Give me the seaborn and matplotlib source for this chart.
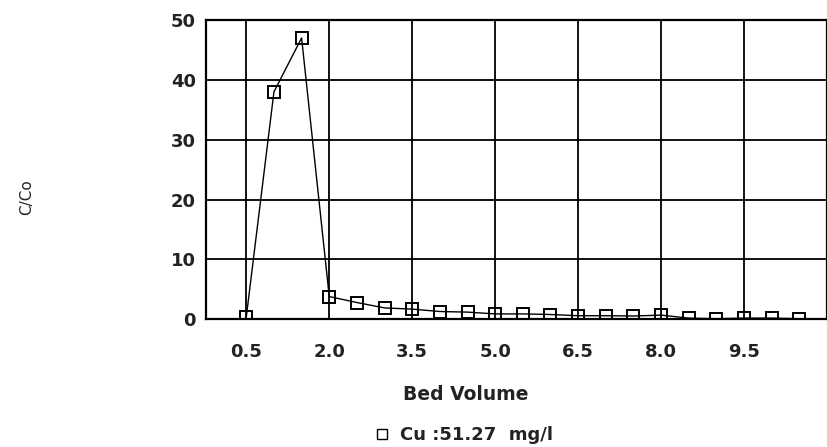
import matplotlib
matplotlib.use("Agg")
import matplotlib.pyplot as plt
from matplotlib.lines import Line2D
import seaborn as sns
import pandas as pd

bed_volume = [0.5, 1.0, 1.5, 2.0, 2.5, 3.0, 3.5, 4.0, 4.5, 5.0, 5.5,
              6.0, 6.5, 7.0, 7.5, 8.0, 8.5, 9.0, 9.5, 10.0, 10.5]
c_over_co = [0.4, 38.0, 47.0, 3.8, 2.8, 1.9, 1.7, 1.3, 1.2, 0.9, 0.9,
             0.8, 0.6, 0.6, 0.55, 0.7, 0.2, 0.1, 0.2, 0.2, 0.1]
x_ticks = [0.5, 2.0, 3.5, 5.0, 6.5, 8.0, 9.5]
x_tick_labels = ["0.5", "2.0", "3.5", "5.0", "6.5", "8.0", "9.5"]
y_ticks = [0, 10, 20, 30, 40, 50]
legend_label = "Cu :51.27  mg/l"
x_label = "Bed Volume"
y_label = "C/Co"

df = pd.DataFrame({"bv": bed_volume, "c": c_over_co})

sns.set_theme(style="white")
plt.rcParams["font.family"] = ["DejaVu Sans"]

fig = plt.figure(figsize=(8.27, 4.47), dpi=100)
W, H = 827, 447
left, right, top, bottom = 205.7, 827.0, 20.0, 319.3
ax = fig.add_axes([left / W, 1 - bottom / H, (right - left) / W, (bottom - top) / H])

sns.lineplot(data=df, x="bv", y="c", ax=ax, color="black", linewidth=1.0,
             marker="s", markersize=8, markerfacecolor="none",
             markeredgecolor="black", markeredgewidth=1.4, zorder=3)

ax.set_xlim(-0.234, 11.0)
ax.set_ylim(0, 50)
ax.set_xticks(x_ticks)
ax.set_xticklabels(x_tick_labels)
ax.set_yticks(y_ticks)
ax.tick_params(axis="x", length=0, pad=17, labelsize=13, colors="#222222")
ax.tick_params(axis="y", length=0, pad=7, labelsize=13, colors="#222222")
for lab in ax.get_xticklabels() + ax.get_yticklabels():
    lab.set_fontweight("bold")
ax.grid(True, color="black", linewidth=1.3)
for s in ax.spines.values():
    s.set_color("black")
    s.set_linewidth(1.6)
ax.set_xlabel("")
ax.set_ylabel("")

fig.text(466 / W, 1 - 394 / H, x_label, ha="center", va="center",
         fontsize=13.5, fontweight="bold", color="#222222")
fig.text(27 / W, 1 - 197 / H, y_label, ha="center", va="center",
         rotation=90, fontsize=11, color="#222222")

handle = Line2D([], [], marker="s", linestyle="none", markersize=7,
                markerfacecolor="white", markeredgecolor="black", markeredgewidth=1.0)
fig.legend([handle], [legend_label], loc="center",
           bbox_to_anchor=(463 / W, 1 - 435 / H), frameon=False,
           prop={"size": 13, "weight": "bold"}, handletextpad=0.5, handlelength=1.0,
           labelcolor="#222222")

fig.savefig("out.png", dpi=100, facecolor="white")
